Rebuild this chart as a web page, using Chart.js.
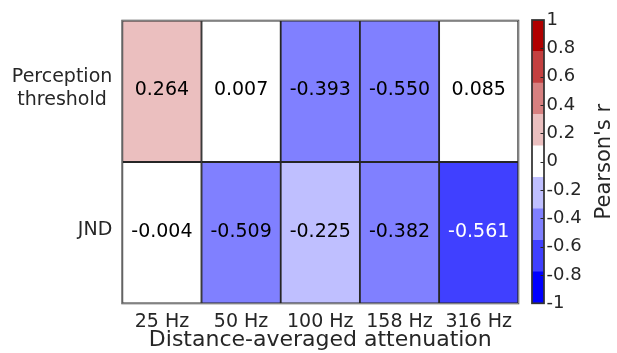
<!DOCTYPE html>
<html>
<head>
<meta charset="utf-8">
<script src="https://cdn.jsdelivr.net/npm/chart.js@4/dist/chart.umd.min.js"></script>
<style>
  html, body { margin: 0; padding: 0; background: #fff; }
  #wrap { position: relative; width: 617px; height: 353px; }
  #wrap canvas { position: absolute; left: 0; top: 0; }
</style>
</head>
<body>
<div id="wrap">
  <canvas id="heat" width="617" height="353"></canvas>
  <canvas id="cbar" width="617" height="353"></canvas>
</div>
<script>
// Correlation (Pearson's r) between each measure and distance-averaged attenuation per band
const bands = ['25 Hz', '50 Hz', '100 Hz', '158 Hz', '316 Hz'];
const rowLabels = [['Perception', 'threshold'], ['JND']];
const thresholdR = [0.264, 0.007, -0.393, -0.550, 0.085];
const jndR = [-0.004, -0.509, -0.225, -0.382, -0.561];

// Discrete diverging colour scale from -1 (blue) to 1 (dark red)
const levelColors = ['#0000ff', '#4040ff', '#8080ff', '#bfbfff', '#ffffff',
                     '#ebbfbf', '#d78080', '#c44040', '#b00000'];
const colorbarTicks = [-1, -0.8, -0.6, -0.4, -0.2, 0, 0.2, 0.4, 0.6, 0.8, 1];

const FONT = 'DejaVu Sans';
const TEXT = '#262626';
const nLev = levelColors.length;
const levelEdge = i => -1 + 2 * i / nLev;
const levelIndex = v => Math.max(0, Math.min(nLev - 1, Math.floor((v + 1) / 2 * nLev)));
const colorFor = v => levelColors[levelIndex(v)];
const textColorFor = v => { const k = levelIndex(v); return (k <= 1 || k >= nLev - 2) ? '#ffffff' : '#000000'; };

// rows: index 0 is the top row (y from 1 to 2), index 1 the bottom row (0 to 1)
const rows = [thresholdR, jndR];
const rowSpan = idx => [rows.length - 1 - idx, rows.length - idx];

const cellText = {
  id: 'cellText',
  afterDatasetsDraw(chart) {
    const ctx = chart.ctx;
    ctx.save();
    ctx.font = `19px "${FONT}"`;
    ctx.textAlign = 'center';
    ctx.textBaseline = 'middle';
    chart.data.datasets.forEach((ds, di) => {
      const meta = chart.getDatasetMeta(di);
      meta.data.forEach((el, i) => {
        const v = ds.rValues[i];
        ctx.fillStyle = textColorFor(v);
        ctx.fillText(v.toFixed(3), el.x, (el.y + el.base) / 2 - 1);
      });
    });
    ctx.restore();
  }
};

const rowText = {
  id: 'rowText',
  afterDraw(chart) {
    const ctx = chart.ctx;
    const ys = chart.scales.y;
    const right = chart.chartArea.left - 10;
    const lineH = 23;
    ctx.save();
    ctx.font = `19px "${FONT}"`;
    ctx.fillStyle = TEXT;
    ctx.textAlign = 'center';
    ctx.textBaseline = 'middle';
    rowLabels.forEach((lines, idx) => {
      const span = rowSpan(idx);
      const cy = ys.getPixelForValue((span[0] + span[1]) / 2) - 3;
      const w = Math.max(...lines.map(l => ctx.measureText(l).width));
      const cx = right - w / 2;
      lines.forEach((l, j) => {
        ctx.fillText(l, cx, cy + (j - (lines.length - 1) / 2) * lineH);
      });
    });
    // frame round the grid
    const a = chart.chartArea;
    ctx.strokeStyle = '#5a5a5a';
    ctx.lineWidth = 1;
    ctx.strokeRect(a.left - 0.5, a.top - 0.5, a.right - a.left + 1, a.bottom - a.top + 1);
    ctx.restore();
  }
};

new Chart(document.getElementById('heat'), {
  type: 'bar',
  data: {
    labels: bands,
    datasets: rows.map((vals, idx) => ({
      label: rowLabels[idx].join(' '),
      data: vals.map(() => rowSpan(idx)),
      rValues: vals,
      backgroundColor: vals.map(colorFor),
      borderColor: '#262626',
      borderWidth: 1.25,
      borderSkipped: false,
      grouped: false,
      barPercentage: 1,
      categoryPercentage: 1
    }))
  },
  options: {
    responsive: false,
    animation: false,
    events: [],
    layout: { padding: { left: 122.3, right: 98.7, top: 20.7, bottom: 0 } },
    plugins: { legend: { display: false }, tooltip: { enabled: false } },
    scales: {
      x: {
        grid: { display: false, drawTicks: false },
        border: { display: false },
        ticks: { font: { family: FONT, size: 19 }, color: TEXT, padding: 7, maxRotation: 0, autoSkip: false },
        title: { display: true, text: 'Distance-averaged attenuation', font: { family: FONT, size: 22 }, color: TEXT, padding: 0 },
        afterFit: s => { s.height = 353 - 303.3; }
      },
      y: { display: false, min: 0, max: rows.length }
    }
  },
  plugins: [cellText, rowText]
});

const colorbarDecor = {
  id: 'colorbarDecor',
  afterDraw(chart) {
    const ctx = chart.ctx;
    const a = chart.chartArea;
    const ys = chart.scales.y;
    ctx.save();
    // inward tick marks on the right edge
    ctx.strokeStyle = '#262626';
    ctx.lineWidth = 1;
    colorbarTicks.forEach(v => {
      const y = Math.round(ys.getPixelForValue(v)) + 0.5;
      ctx.beginPath();
      ctx.moveTo(a.right - 3.5, y);
      ctx.lineTo(a.right, y);
      ctx.stroke();
    });
    ctx.strokeStyle = '#333333';
    ctx.lineWidth = 1.75;
    ctx.strokeRect(a.left, a.top, a.right - a.left, a.bottom - a.top);
    // axis title, reading bottom to top
    ctx.translate(605, (a.top + a.bottom) / 2);
    ctx.rotate(-Math.PI / 2);
    ctx.font = `21px "${FONT}"`;
    ctx.fillStyle = TEXT;
    ctx.textAlign = 'center';
    ctx.textBaseline = 'middle';
    ctx.fillText("Pearson's r", 0, 0);
    ctx.restore();
  }
};

new Chart(document.getElementById('cbar'), {
  type: 'bar',
  data: {
    labels: [''],
    datasets: levelColors.map((c, i) => ({
      data: [[levelEdge(i), levelEdge(i + 1)]],
      backgroundColor: c,
      borderWidth: 0,
      grouped: false,
      barPercentage: 1,
      categoryPercentage: 1
    }))
  },
  options: {
    responsive: false,
    animation: false,
    events: [],
    layout: { padding: { left: 532, right: 0, top: 20, bottom: 353 - 303.3 } },
    plugins: { legend: { display: false }, tooltip: { enabled: false } },
    scales: {
      x: { display: false },
      y: {
        position: 'right',
        min: -1, max: 1,
        grid: { display: false, drawTicks: false },
        border: { display: false },
        afterBuildTicks: s => { s.ticks = colorbarTicks.map(v => ({ value: v })); },
        ticks: { font: { family: FONT, size: 18 }, color: TEXT, padding: 2.5, callback: v => String(v) },
        afterFit: s => { s.width = 617 - 544; }
      }
    }
  },
  plugins: [colorbarDecor]
});
</script>
</body>
</html>
